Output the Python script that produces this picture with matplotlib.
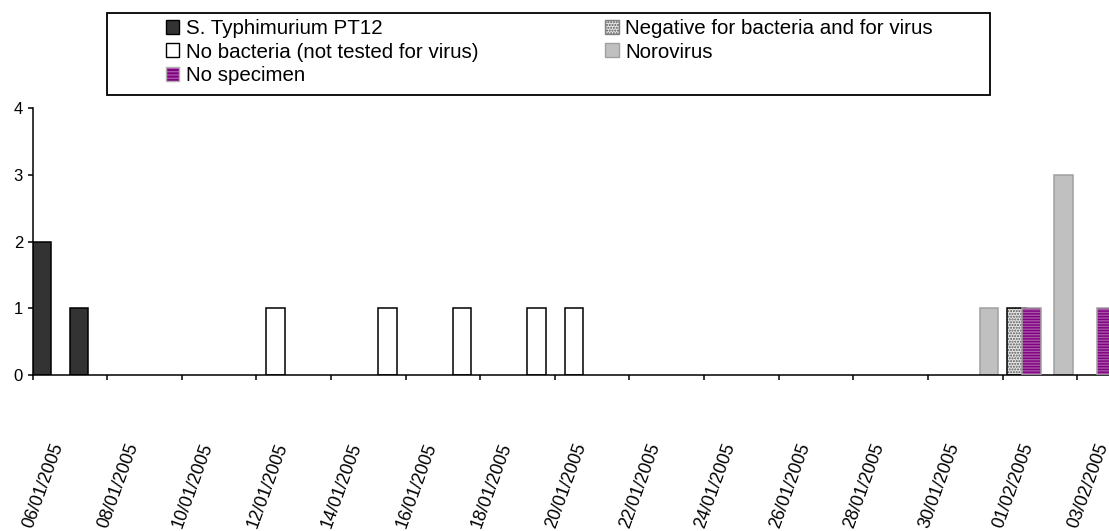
import matplotlib
matplotlib.use("Agg")
import matplotlib.pyplot as plt
import matplotlib.dates as mdates
import matplotlib.transforms as mtransforms
from matplotlib.patches import Patch, Rectangle
from matplotlib.legend_handler import HandlerTuple
import pandas as pd

plt.rcParams['font.family'] = ['Liberation Sans', 'DejaVu Sans']
plt.rcParams['hatch.linewidth'] = 1.0

# ---------------- data ----------------
typh_dates = ["06/01/2005", "07/01/2005"]
typh_counts = [2, 1]

negative_dates = ["01/02/2005"]
negative_counts = [1]

nobact_dates = ["12/01/2005", "15/01/2005", "17/01/2005", "19/01/2005", "20/01/2005"]
nobact_counts = [1, 1, 1, 1, 1]

noro_dates = ["31/01/2005", "02/02/2005"]
noro_counts = [1, 3]

nospec_dates = ["01/02/2005", "03/02/2005"]
nospec_counts = [1, 1]

x_tick_labels = ["06/01/2005", "08/01/2005", "10/01/2005", "12/01/2005", "14/01/2005",
                 "16/01/2005", "18/01/2005", "20/01/2005", "22/01/2005", "24/01/2005",
                 "26/01/2005", "28/01/2005", "30/01/2005", "01/02/2005", "03/02/2005"]
y_ticks = [0, 1, 2, 3, 4]
x_start = "06/01/2005"
x_end = "04/02/2005"

labels = {
    "typh": "S. Typhimurium PT12",
    "neg": "Negative for bacteria and for virus",
    "nobact": "No bacteria (not tested for virus)",
    "noro": "Norovirus",
    "nospec": "No specimen",
}


def to_num(dates):
    return mdates.date2num(pd.to_datetime(dates, format="%d/%m/%Y"))


W, H = 1109, 531
fig = plt.figure(figsize=(W / 100, H / 100), dpi=100)
px_day = 37.31
ax = fig.add_axes([32.5 / W, (H - 375) / H, 29 * px_day / W, (375 - 108.3) / H])

bar_w = 0.5
offsets = [0.25, 0.38, 0.51, 0.64, 0.77]
purple = "#800080"
stripe = "#a855a8"

# series 0: S. Typhimurium
ax.bar(to_num(typh_dates) + offsets[0], typh_counts, width=bar_w,
       color="#333333", edgecolor="black", linewidth=1.1, zorder=2)
# series 1: Negative (dotted pattern)
ax.bar(to_num(negative_dates) + offsets[1], negative_counts, width=bar_w,
       color="#e6e6e6", edgecolor="#555555", hatch="......", linewidth=0, zorder=2)
ax.bar(to_num(negative_dates) + offsets[1], negative_counts, width=bar_w,
       fill=False, edgecolor="black", linewidth=1.1, zorder=2)
# series 2: No bacteria
ax.bar(to_num(nobact_dates) + offsets[2], nobact_counts, width=bar_w,
       color="white", edgecolor="black", linewidth=1.1, zorder=2)
# series 3: Norovirus
ax.bar(to_num(noro_dates) + offsets[3], noro_counts, width=bar_w,
       color="#c0c0c0", edgecolor="#a0a0a0", linewidth=1.1, zorder=2)
# series 4: No specimen (striped purple)
ax.bar(to_num(nospec_dates) + offsets[4], nospec_counts, width=bar_w,
       color=purple, edgecolor=stripe, hatch="------", linewidth=0, zorder=3)
ax.bar(to_num(nospec_dates) + offsets[4], nospec_counts, width=bar_w,
       fill=False, edgecolor="#a0a0a0", linewidth=1.1, zorder=3)

x0 = to_num([x_start])[0]
x1 = to_num([x_end])[0]
ax.set_xlim(x0, x1)
ax.set_ylim(y_ticks[0], y_ticks[-1])

tick_pos = to_num(x_tick_labels)
ax.set_xticks(tick_pos)
ax.set_xticklabels([])
ax.set_yticks(y_ticks)
ax.set_yticklabels([str(v) for v in y_ticks])

for s in ["top", "right"]:
    ax.spines[s].set_visible(False)
for s in ["left", "bottom"]:
    ax.spines[s].set_linewidth(1.1)
ax.tick_params(axis="both", direction="out", length=3.8, width=1.1, color="black")
ax.tick_params(axis="y", labelsize=12, pad=3)
ax.tick_params(axis="x", labelbottom=False)

trans = mtransforms.blended_transform_factory(ax.transData, ax.transAxes) + \
    mtransforms.ScaledTranslation(11 / 100, -111 / 100, fig.dpi_scale_trans)
for p, lab in zip(tick_pos, x_tick_labels):
    ax.text(p, 0, lab, transform=trans, rotation=70, rotation_mode="anchor",
            ha="center", va="center", fontsize=12.8)

# legend
h_typh = Patch(facecolor="#333333", edgecolor="black", linewidth=1.0)
h_nobact = Patch(facecolor="white", edgecolor="black", linewidth=1.0)
h_nospec = (Patch(facecolor=purple, edgecolor=stripe, hatch="-----", linewidth=0),
            Patch(fill=False, edgecolor="#b0b0b0", linewidth=1.0))
h_neg = (Patch(facecolor="#e6e6e6", edgecolor="#555555", hatch="......", linewidth=0),
         Patch(fill=False, edgecolor="#808080", linewidth=1.0))
h_noro = Patch(facecolor="#c0c0c0", edgecolor="#a0a0a0", linewidth=1.0)

fig.legend([h_typh, h_nobact, h_nospec, h_neg, h_noro],
           [labels["typh"], labels["nobact"], labels["nospec"], labels["neg"], labels["noro"]],
           ncol=2, loc="upper left", bbox_to_anchor=(166 / W, 1 - 19 / H),
           bbox_transform=fig.transFigure, frameon=False, borderpad=0, borderaxespad=0,
           handlelength=0.65, handleheight=0.65, handletextpad=0.3, columnspacing=6.2,
           labelspacing=0.22, fontsize=14.8,
           handler_map={tuple: HandlerTuple(ndivide=1)})

fig.add_artist(Rectangle((107 / W, (H - 95) / H), (990 - 107) / W, (95 - 13) / H,
                         transform=fig.transFigure, fill=False, edgecolor="black",
                         linewidth=1.3))

fig.savefig("out.png", dpi=100)
